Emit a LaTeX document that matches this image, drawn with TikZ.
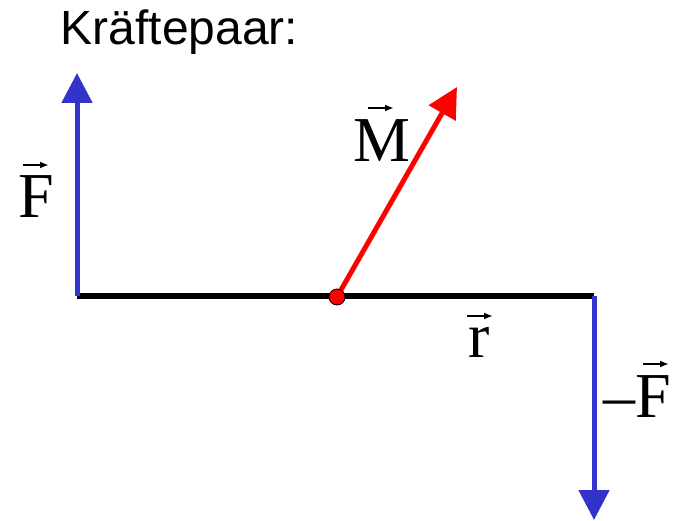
\documentclass[tikz,border=0pt]{standalone}
\usepackage{fontspec}
\setmainfont{Liberation Serif}
\newfontfamily\headfont{Liberation Sans}
\usetikzlibrary{arrows.meta}
\definecolor{forceblue}{RGB}{51,51,204}
\definecolor{momred}{RGB}{255,0,0}
\begin{document}
\begin{tikzpicture}[x=1pt,y=-1pt,
  force/.style={draw=forceblue,line width=5pt,-{Triangle[length=30pt,width=30pt]}},
  moment/.style={draw=momred,line width=5pt,-{Triangle[length=30pt,width=30pt]}},
  bar/.style={draw=black,line width=6.5pt},
  lbl/.style={inner sep=0pt,anchor=base,font=\fontsize{64}{70}\selectfont},
  vecarrow/.style={line width=2pt,-{Latex[length=9pt,width=7pt]}},
  pivot/.style={circle,fill=momred,draw=black,line width=0.8pt,minimum size=16pt,inner sep=0pt}]
\useasboundingbox (0,0) rectangle (684,521);
% title
\node[inner sep=0pt,anchor=base west,font=\headfont\fontsize{48}{54}\selectfont] (title) at (60.5,45) {Kräftepaar:};
% points
\coordinate (L) at (77,296);
\coordinate (Ltip) at (77,73);
\coordinate (R) at (594,296);
\coordinate (Rtip) at (594,520);
\coordinate (O) at (337,297);
\coordinate (Mtip) at (457,87);
% bar
\draw[bar] (L) -- (R);
% forces
\draw[force] (L) -- (Ltip);
\draw[force] (R) -- (Rtip);
% moment
\draw[moment] (O) -- (Mtip);
\node[pivot] (P) at (O) {};
% labels
\node[lbl] (F) at (36.5,218) {F};
\draw[vecarrow] ([shift={(-13.5,-53)}]F.base) -- ++(26,0);
\node[lbl] (M) at (382,162) {M};
\draw[vecarrow] ([shift={(-14,-54)}]M.base) -- ++(26,0);
\node[lbl] (r) at (479,357) {r};
\draw[vecarrow] ([shift={(-12,-41)}]r.base) -- ++(26,0);
\node[lbl,anchor=base east] (mF) at (671,417) {–F};
\draw[vecarrow] ([shift={(-28,-53)}]mF.base east) -- ++(26,0);
\end{tikzpicture}
\end{document}
